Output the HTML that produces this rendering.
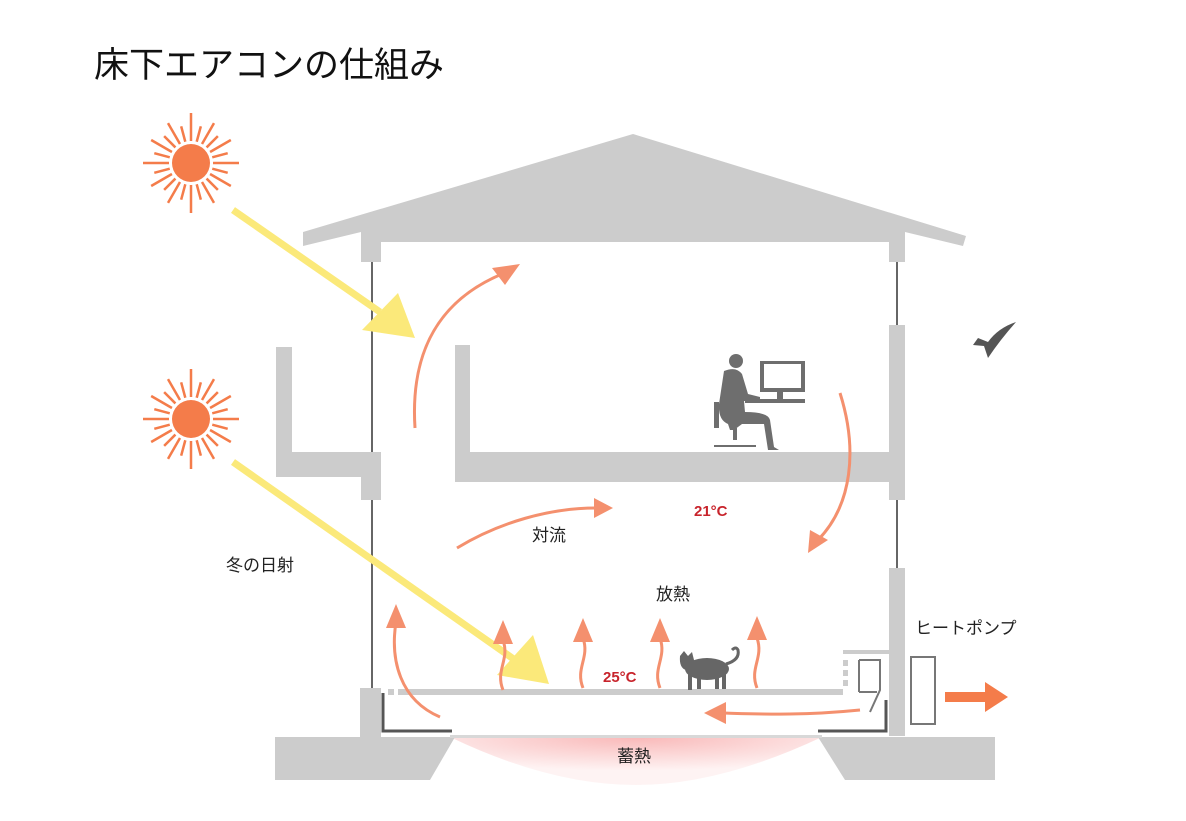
<!DOCTYPE html>
<html><head><meta charset="utf-8"><style>
html,body{margin:0;padding:0;background:#fff;}
svg{display:block;}
text{font-family:"Liberation Sans","Noto Sans CJK JP",sans-serif;}
</style></head><body>
<svg width="1186" height="821" viewBox="0 0 1186 821" xmlns="http://www.w3.org/2000/svg">
<defs>
<radialGradient id="pk" cx="0.5" cy="0" r="0.7">
<stop offset="0" stop-color="#f9b8b8"/><stop offset="1" stop-color="#fef3f3"/>
</radialGradient>
</defs>
<text x="94" y="77" font-size="35" fill="#111">床下エアコンの仕組み</text>

<!-- roof -->
<polygon points="633,134 966,236 963,246 905,232 905,262 889,262 889,242 381,242 381,262 361,262 361,232 303,246 303,232" fill="#cccccc"/>
<!-- walls -->
<line x1="372" y1="262" x2="372" y2="690" stroke="#666" stroke-width="2"/>
<line x1="897" y1="262" x2="897" y2="330" stroke="#666" stroke-width="2"/>
<line x1="897" y1="495" x2="897" y2="570" stroke="#666" stroke-width="2"/>
<rect x="889" y="325" width="16" height="175" fill="#cccccc"/>
<rect x="889" y="568" width="16" height="168" fill="#cccccc"/>
<!-- 2nd floor -->
<rect x="455" y="345" width="15" height="110" fill="#cccccc"/>
<rect x="455" y="452" width="450" height="30" fill="#cccccc"/>
<!-- balcony -->
<rect x="276" y="347" width="16" height="108" fill="#cccccc"/>
<rect x="276" y="452" width="105" height="25" fill="#cccccc"/>
<rect x="361" y="452" width="20" height="48" fill="#cccccc"/>
<!-- ground floor -->
<rect x="360" y="688" width="21" height="50" fill="#cccccc"/>
<rect x="398" y="689" width="445" height="6" fill="#cccccc"/>
<rect x="388" y="689" width="6" height="6" fill="#cccccc"/>
<!-- pink storage -->
<path d="M450,737 L822,737 Q720,785 636,785 Q550,785 450,737 Z" fill="url(#pk)"/>
<!-- foundation -->
<polygon points="275,737 455,737 430,780 275,780" fill="#cccccc"/>
<polygon points="818,737 995,737 995,780 845,780" fill="#cccccc"/>
<rect x="450" y="735" width="372" height="3" fill="#d8d8d8"/>
<!-- insulation -->
<path d="M383,693 V731 H452" stroke="#555" stroke-width="3" fill="none"/>
<path d="M818,731 H886 V700" stroke="#555" stroke-width="3" fill="none"/>
<!-- heat pump -->
<rect x="843" y="650" width="48" height="4" fill="#cccccc"/>
<rect x="843" y="660" width="5" height="6" fill="#cccccc"/><rect x="843" y="670" width="5" height="6" fill="#cccccc"/><rect x="843" y="680" width="5" height="6" fill="#cccccc"/>
<path d="M859,660 H880 V690 L870,712" stroke="#777" stroke-width="2" fill="none"/>
<line x1="859" y1="660" x2="859" y2="692" stroke="#777" stroke-width="2"/>
<line x1="859" y1="692" x2="877" y2="692" stroke="#777" stroke-width="2"/>
<rect x="911" y="657" width="24" height="67" fill="#fff" stroke="#777" stroke-width="2"/>
<polygon points="945,692 985,692 985,682 1008,697 985,712 985,702 945,702" fill="#f47c4a"/>

<!-- suns -->
<g stroke="#f47c4a" stroke-width="2.5">
<g id="sun1" transform="translate(191,163)">
<line x1="0" y1="-22" x2="0" y2="-50"/><line x1="0" y1="22" x2="0" y2="50"/><line x1="-22" y1="0" x2="-48" y2="0"/><line x1="22" y1="0" x2="48" y2="0"/>
<g transform="rotate(15)"><line x1="0" y1="-22" x2="0" y2="-38"/><line x1="0" y1="22" x2="0" y2="38"/><line x1="-22" y1="0" x2="-38" y2="0"/><line x1="22" y1="0" x2="38" y2="0"/></g>
<g transform="rotate(30)"><line x1="0" y1="-22" x2="0" y2="-46"/><line x1="0" y1="22" x2="0" y2="46"/><line x1="-22" y1="0" x2="-46" y2="0"/><line x1="22" y1="0" x2="46" y2="0"/></g>
<g transform="rotate(45)"><line x1="0" y1="-22" x2="0" y2="-38"/><line x1="0" y1="22" x2="0" y2="38"/><line x1="-22" y1="0" x2="-38" y2="0"/><line x1="22" y1="0" x2="38" y2="0"/></g>
<g transform="rotate(60)"><line x1="0" y1="-22" x2="0" y2="-46"/><line x1="0" y1="22" x2="0" y2="46"/><line x1="-22" y1="0" x2="-46" y2="0"/><line x1="22" y1="0" x2="46" y2="0"/></g>
<g transform="rotate(75)"><line x1="0" y1="-22" x2="0" y2="-38"/><line x1="0" y1="22" x2="0" y2="38"/><line x1="-22" y1="0" x2="-38" y2="0"/><line x1="22" y1="0" x2="38" y2="0"/></g>
<circle r="19" fill="#f47c4a" stroke="none"/>
</g>
<use href="#sun1" transform="translate(0,256)"/>
</g>

<!-- yellow arrows -->
<line x1="233" y1="210" x2="380" y2="312" stroke="#fbe97a" stroke-width="7"/>
<polygon points="362,330 398,293 415,338" fill="#fbe97a"/>
<line x1="233" y1="462" x2="515" y2="660" stroke="#fbe97a" stroke-width="7"/>
<polygon points="497,675 533,635 549,684" fill="#fbe97a"/>

<!-- orange flow arrows -->
<g stroke="#f4906e" stroke-width="3" fill="none">
<path d="M415,428 C410,350 440,300 502,274"/>
<path d="M840,393 C858,450 852,505 818,540"/>
<path d="M457,548 C500,522 550,508 596,508"/>
<path d="M440,717 C400,700 390,660 396,622"/>
<path d="M503,690 C495,670 510,660 503,640"/>
<path d="M583,688 C575,668 590,658 583,638"/>
<path d="M660,688 C652,668 667,658 660,638"/>
<path d="M757,688 C749,668 764,658 757,638"/>
<path d="M860,710 C800,716 760,714 722,713"/>
</g>
<g fill="#f4906e">
<polygon points="520,264 492,268 505,285"/>
<polygon points="808,553 810,530 828,540"/>
<polygon points="613,508 594,498 594,518"/>
<polygon points="396,604 386,628 406,628"/>
<polygon points="503,620 493,644 513,644"/>
<polygon points="583,618 573,642 593,642"/>
<polygon points="660,618 650,642 670,642"/>
<polygon points="757,616 747,640 767,640"/>
<polygon points="704,713 726,702 726,724"/>
</g>

<!-- person -->
<g fill="#6e6e6e">
<circle cx="736" cy="361" r="7"/>
<path d="M724,371 Q736,366 742,374 L748,394 L760,397 L760,401 L744,401 L745,412 Q768,412 770,420 L774,447 L779,450 L768,450 L764,424 L742,424 L734,430 L730,430 L728,424 Q718,420 719,404 Z"/>
<rect x="714" y="402" width="5" height="26"/>
<rect x="733" y="428" width="4" height="12"/>
<path d="M714,445 L756,445 L756,447 L714,447 Z"/>
<path d="M760,361 H805 V392 H760 Z M764,364 V388 H801 V364 Z" fill-rule="evenodd"/>
<rect x="777" y="392" width="6" height="8"/>
<rect x="745" y="399" width="60" height="4"/>
</g>
<!-- bird -->
<path d="M1016,322 Q998,328 988,342 L978,338 L973,345 L984,346 L988,358 Q1000,340 1016,322 Z" fill="#555"/>
<!-- cat -->
<g fill="#666">
<ellipse cx="707" cy="669" rx="22" ry="11"/>
<path d="M680,656 L684,651 L688,656 L692,652 L694,660 Q694,670 686,670 Q679,668 680,656 Z"/>
<rect x="688" y="672" width="4" height="18"/><rect x="697" y="674" width="4" height="15"/>
<rect x="715" y="674" width="4" height="15"/><rect x="722" y="672" width="4" height="17"/>
<path d="M726,664 Q740,660 738,650 Q736,646 732,650" stroke="#666" stroke-width="3" fill="none"/>
</g>

<!-- labels -->
<text x="226" y="571" font-size="17" fill="#222">冬の日射</text>
<text x="532" y="541" font-size="17" fill="#222">対流</text>
<text x="694" y="516" font-size="15" font-weight="bold" fill="#c8242c">21°C</text>
<text x="656" y="600" font-size="17" fill="#222">放熱</text>
<text x="603" y="682" font-size="15" font-weight="bold" fill="#c8242c">25°C</text>
<text x="915" y="634" font-size="17" fill="#222">ヒートポンプ</text>
<text x="617" y="762" font-size="17" fill="#222">蓄熱</text>
</svg>
</body></html>
